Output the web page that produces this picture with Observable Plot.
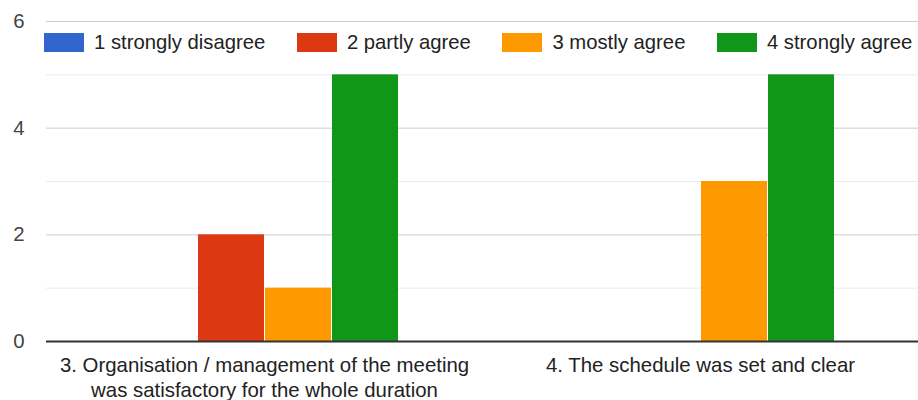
<!DOCTYPE html>
<html><head><meta charset="utf-8">
<script src="https://cdn.jsdelivr.net/npm/d3@7"></script>
<script src="https://cdn.jsdelivr.net/npm/@observablehq/plot@0.6"></script>
<style>
body{margin:0;background:#fff;}
#wrap{position:relative;width:918px;height:400px;font-family:Arial,"Liberation Sans",sans-serif;}
#legend{position:absolute;left:44px;top:33px;width:874px;white-space:nowrap;display:flex;align-items:center;gap:31.5px;font-size:20.3px;color:#222;line-height:19px;}
.item{display:flex;align-items:center;gap:10px;white-space:nowrap;flex:none;}
.sw{width:40px;height:19px;flex:none;}
</style></head><body>
<div id="wrap"><div id="chart"></div><div id="legend"></div></div>
<script>
const questions = ["3. Organisation / management of the meeting\nwas satisfactory for the whole duration", "4. The schedule was set and clear"];
const answers = ["1 strongly disagree", "2 partly agree", "3 mostly agree", "4 strongly agree"];
const colors = ["#3366cc", "#dc3912", "#ff9900", "#109618"];
const countsQ3 = [0, 2, 1, 5];
const countsQ4 = [0, 0, 3, 5];
const yTicks = [0, 2, 4, 6];
const minorTicks = [1, 3, 5];

const data = [];
[countsQ3, countsQ4].forEach((c, i) => c.forEach((v, j) => data.push({q: questions[i], a: answers[j], n: v})));

const chart = Plot.plot({
  width: 918, height: 400,
  marginLeft: 45, marginRight: 0, marginTop: 21, marginBottom: 59,
  style: {fontFamily: 'Arial, "Liberation Sans", sans-serif', fontSize: "20.4px", color: "#222", background: "#fff"},
  fx: {domain: questions, padding: 0, label: null},
  x: {domain: answers, paddingInner: 0.015, paddingOuter: 1.22, axis: null},
  y: {domain: [0, 6], axis: null},
  color: {domain: answers, range: colors},
  marks: [
    Plot.gridY(minorTicks, {stroke: "#ebebeb", strokeOpacity: 1}),
    Plot.gridY(yTicks, {stroke: "#cccccc", strokeOpacity: 1}),
    Plot.barY(data, {fx: "q", x: "a", y: "n", fill: "a"}),
    Plot.ruleY([0], {stroke: "#333", strokeWidth: 2}),
    Plot.axisY({ticks: yTicks, tickFormat: "d", label: null, tickSize: 0, tickPadding: 22, fill: "#444", fontSize: 20.4}),
    Plot.axisFx({anchor: "bottom", tickSize: 0, tickPadding: 12, fill: "#222", fontSize: 20.4, lineHeight: 1.25, label: null})
  ]
});
document.getElementById("chart").appendChild(chart);

const legend = document.getElementById("legend");
answers.forEach((a, i) => {
  const item = document.createElement("div");
  item.className = "item";
  const sw = document.createElement("div");
  sw.className = "sw";
  sw.style.background = colors[i];
  const t = document.createElement("span");
  t.textContent = a;
  item.appendChild(sw); item.appendChild(t);
  legend.appendChild(item);
});
</script>
</body></html>
